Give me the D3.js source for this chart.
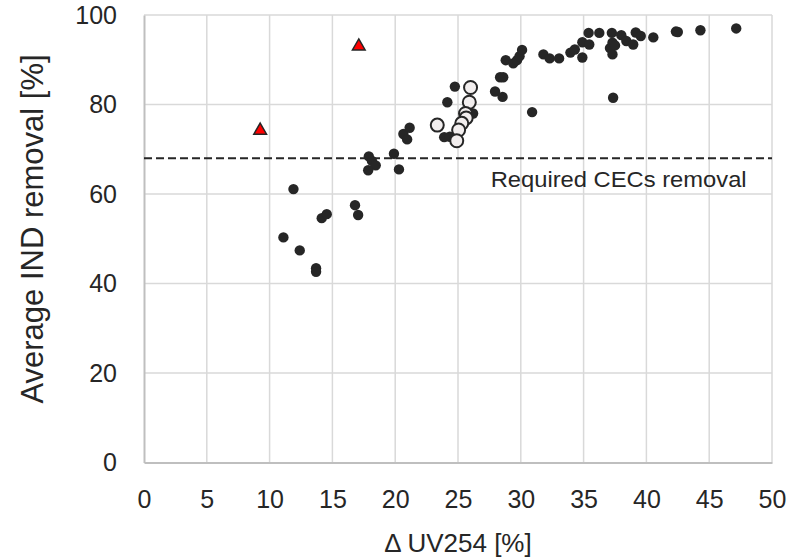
<!DOCTYPE html>
<html>
<head>
<meta charset="utf-8">
<script src="https://cdn.jsdelivr.net/npm/d3@7"></script>
<style>
  body { margin: 0; background: #fff; }
  text { font-family: "Liberation Sans", Arial, sans-serif; fill: #262626; }
</style>
</head>
<body>
<div id="chart"></div>
<script>
// IND removal vs delta UV254

// filled dots (main data set)
var dotX = [11.1, 11.9, 12.4, 13.7, 13.7, 14.15, 14.55, 16.8, 17.05,
  17.9, 18.15, 18.45, 17.85, 19.9, 20.3, 20.65, 21.15, 20.95,
  23.9, 24.35, 24.15, 24.75, 26.2,
  27.95, 28.55, 28.35, 28.6, 28.8, 29.4, 29.7, 29.9, 30.1, 30.9, 31.8, 32.3, 33.05,
  33.95, 34.3, 34.9, 35.45, 35.4, 36.25, 34.9, 37.25, 37.3, 37.1, 37.5, 37.3, 37.35,
  38.0, 38.4, 38.95, 39.15, 39.55, 40.55, 42.35, 42.5, 44.3, 47.15]
var dotY = [50.3, 61.1, 47.4, 43.4, 42.6, 54.6, 55.5, 57.5, 55.3,
  68.4, 67.4, 66.4, 65.3, 69.0, 65.5, 73.4, 74.8, 72.2,
  72.7, 72.8, 80.5, 84.0, 78.0,
  82.9, 81.7, 86.1, 86.1, 89.9, 89.2, 89.9, 90.8, 92.2, 78.3, 91.2, 90.3, 90.3,
  91.6, 92.3, 93.9, 93.4, 96.0, 96.0, 90.5, 96.0, 93.8, 92.6, 93.2, 91.2, 81.5,
  95.5, 94.2, 93.4, 96.1, 95.3, 95.0, 96.3, 96.2, 96.6, 97.0]

// open circles
var openX = [23.35, 26.0, 25.9, 25.6, 25.65, 25.3, 25.05, 24.9]
var openY = [75.4, 83.8, 80.5, 78.0, 77.0, 75.8, 74.3, 71.9]

// red triangles
var triX = [9.25, 17.1]
var triY = [74.2, 93.0]

var threshold = 68
var thresholdLabel = "Required CECs removal"

var xTicks = [0, 5, 10, 15, 20, 25, 30, 35, 40, 45, 50]
var yTicks = [0, 20, 40, 60, 80, 100]

var margin = ({ top: 15, right: 31, bottom: 97.5, left: 144 })
var width = 803
var height = 560

var svg = d3.select("#chart")
  .append("svg")
  .attr("width", width)
  .attr("height", height)

var x = d3.scaleLinear()
  .domain([0, 50])
  .range([margin.left, width - margin.right])

var y = d3.scaleLinear()
  .domain([0, 100])
  .range([height - margin.bottom, margin.top])

// grid
svg.append("g")
  .selectAll("line")
  .data(xTicks.slice(1))
  .join("line")
  .attr("x1", d => x(d)).attr("x2", d => x(d))
  .attr("y1", y(0)).attr("y2", y(100))
  .attr("stroke", "#d9d9d9")
  .attr("stroke-width", 1.5)

svg.append("g")
  .selectAll("line")
  .data(yTicks.slice(1))
  .join("line")
  .attr("x1", x(0)).attr("x2", x(50))
  .attr("y1", d => y(d)).attr("y2", d => y(d))
  .attr("stroke", "#d9d9d9")
  .attr("stroke-width", 1.5)

// axes
var xAxis = g => g
  .attr("transform", `translate(0,${y(0)})`)
  .call(d3.axisBottom(x).tickValues(xTicks).tickSize(0).tickPadding(28))
  .call(g => g.select(".domain").attr("stroke", "#bfbfbf").attr("stroke-width", 2))
  .call(g => g.selectAll("text").attr("font-size", 25).attr("fill", "#262626"))

var yAxis = g => g
  .attr("transform", `translate(${x(0)},0)`)
  .call(d3.axisLeft(y).tickValues(yTicks).tickSize(0).tickPadding(27))
  .call(g => g.select(".domain").attr("stroke", "#bfbfbf").attr("stroke-width", 2))
  .call(g => g.selectAll("text").attr("font-size", 25).attr("fill", "#262626"))

svg.append("g").call(xAxis)
svg.append("g").call(yAxis)

svg.selectAll(".tick text").attr("font-family", "Liberation Sans, Arial, sans-serif")

// threshold line
svg.append("line")
  .attr("x1", x(0)).attr("x2", x(50))
  .attr("y1", y(threshold)).attr("y2", y(threshold))
  .attr("stroke", "#262626")
  .attr("stroke-width", 2)
  .attr("stroke-dasharray", "8,4")

svg.append("text")
  .attr("x", x(27.6))
  .attr("y", y(threshold) + 29)
  .attr("font-size", 22)
  .attr("textLength", 256)
  .attr("lengthAdjust", "spacingAndGlyphs")
  .text(thresholdLabel)

// points
svg.append("g")
  .selectAll("circle")
  .data(dotX.map((d, i) => [d, dotY[i]]))
  .join("circle")
  .attr("cx", d => x(d[0]))
  .attr("cy", d => y(d[1]))
  .attr("r", 5.2)
  .attr("fill", "#262626")

svg.append("g")
  .selectAll("circle")
  .data(openX.map((d, i) => [d, openY[i]]))
  .join("circle")
  .attr("cx", d => x(d[0]))
  .attr("cy", d => y(d[1]))
  .attr("r", 6.5)
  .attr("fill", "#f2eeee")
  .attr("stroke", "#262626")
  .attr("stroke-width", 2)

svg.append("g")
  .selectAll("path")
  .data(triX.map((d, i) => [d, triY[i]]))
  .join("path")
  .attr("d", d3.symbol(d3.symbolTriangle, 70))
  .attr("transform", d => `translate(${x(d[0])},${y(d[1])})`)
  .attr("fill", "#ff0000")
  .attr("stroke", "#262626")
  .attr("stroke-width", 1.5)

// axis titles
svg.append("text")
  .attr("x", (x(0) + x(50)) / 2)
  .attr("y", 552)
  .attr("text-anchor", "middle")
  .attr("font-size", 26)
  .text("\u0394 UV254 [%]")

svg.append("text")
  .attr("transform", `translate(43,229) rotate(-90)`)
  .attr("text-anchor", "middle")
  .attr("font-size", 31)
  .text("Average IND removal [%]")
</script>
</body>
</html>
